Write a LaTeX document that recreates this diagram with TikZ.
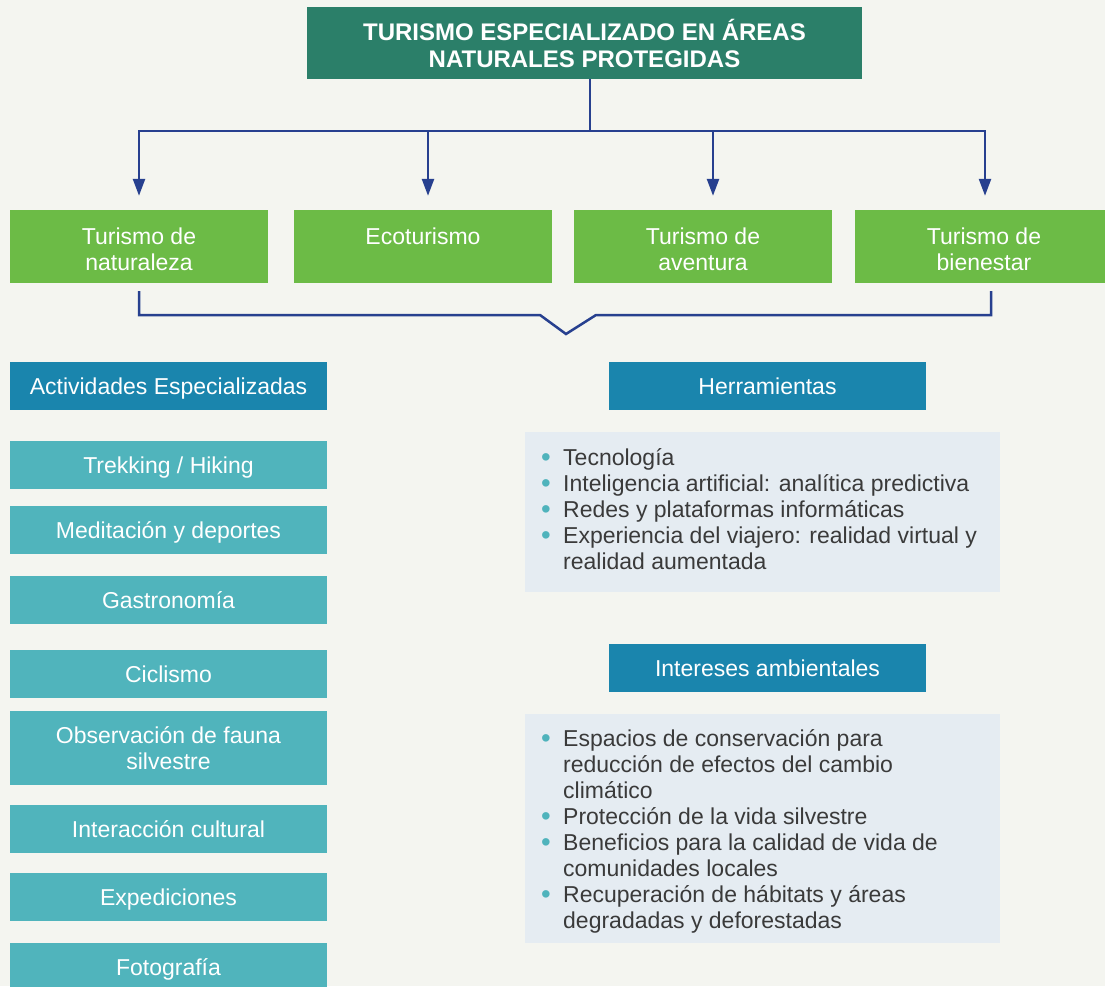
\documentclass[tikz,border=0pt]{standalone}
\usepackage{graphicx}
\usepackage{fontspec}
\setmainfont{Liberation Sans}
\usetikzlibrary{arrows.meta,calc}
\definecolor{bgc}{HTML}{F4F5F0}
\definecolor{titlegreen}{HTML}{2B7F69}
\definecolor{lgreen}{HTML}{6CBB46}
\definecolor{lineblue}{HTML}{27408F}
\definecolor{headblue}{HTML}{1A85AD}
\definecolor{tealc}{HTML}{50B4BC}
\definecolor{panelc}{HTML}{E5ECF2}
\definecolor{textc}{HTML}{3A3A3A}
\definecolor{bulc}{HTML}{4FB3BC}
\newcommand{\bul}{\llap{\textcolor{bulc}{\raisebox{-1.5pt}{\scalebox{1.2}{•}}}\hspace{12.5pt}}}
\newcommand{\tstrut}{\rule{0pt}{23pt}}
\begin{document}
\begin{tikzpicture}[x=1pt,y=-1pt,
  box/.style={rectangle, inner sep=0pt, align=center, text=white, font=\fontsize{23}{26}\selectfont},
  sline/.style={text height=17pt, text depth=0pt},
  titlebox/.style={box, fill=titlegreen, minimum width=555pt, minimum height=72pt, font=\bfseries\fontsize{24}{27}\selectfont},
  greenbox/.style={box, fill=lgreen, minimum width=258pt, minimum height=73pt},
  headbox/.style={box, sline, fill=headblue, minimum width=317pt, minimum height=48pt},
  itembox/.style={box, fill=tealc, minimum width=317pt, minimum height=48pt},
  panel/.style={rectangle, fill=panelc, inner sep=0pt, minimum width=475pt},
  listtext/.style={anchor=north west, inner sep=0pt, align=left, text=textc, font=\fontsize{23}{26}\selectfont},
  conn/.style={draw=lineblue, line width=2.5pt},
  arr/.style={conn, -{Triangle[length=17pt,width=12pt]}}
]
\useasboundingbox (0,0) rectangle (1105,986);
\fill[bgc] (0,0) rectangle (1105,986);

% title
\node[titlebox] (title) at (584.5,43) {TURISMO ESPECIALIZADO EN ÁREAS\\NATURALES PROTEGIDAS};

% green boxes
\node[greenbox] (g1) at (139,246.5) {\tstrut Turismo de\\naturaleza};
\node[greenbox] (g2) at (423,246.5) {\tstrut Ecoturismo\\\phantom{naturaleza}};
\node[greenbox] (g3) at (703,246.5) {\tstrut Turismo de\\aventura};
\node[greenbox] (g4) at (984,246.5) {\tstrut Turismo de\\bienestar};

% connectors top
\coordinate (j) at (590,131);
\draw[conn] ([xshift=5.5pt]title.south) -- (j);
\draw[arr] (j) -| ([yshift=14pt]g1.north);
\draw[arr] (j) -| ([xshift=5pt,yshift=14pt]g2.north);
\draw[arr] (j) -| ([xshift=10pt,yshift=14pt]g3.north);
\draw[arr] (j) -| ([xshift=1pt,yshift=14pt]g4.north);

% bracket
\coordinate (vt) at (566,334);
\draw[conn] ([yshift=-8pt]g1.south) |- (540,315) -- (vt) -- (596,315) -| ([xshift=7pt,yshift=-8pt]g4.south);

% left column
\node[headbox] (act) at (168.5,386) {Actividades Especializadas};
\node[itembox, sline] (trek) at (168.5,465) {Trekking / Hiking};
\node[itembox, sline] (medi) at (168.5,530) {Meditación y deportes};
\node[itembox, sline] (gast) at (168.5,599.5) {Gastronomía};
\node[itembox, sline] (cicl) at (168.5,674) {Ciclismo};
\node[itembox, minimum height=74pt] (obs) at (168.5,748) {Observación de fauna\\silvestre};
\node[itembox, sline] (inter) at (168.5,829) {Interacción cultural};
\node[itembox, sline] (exped) at (168.5,897) {Expediciones};
\node[itembox, sline] (foto) at (168.5,967) {Fotografía};

% right column
\node[headbox] (herr) at (767.5,386) {Herramientas};
\node[panel, minimum height=160pt] (hpanel) at (762.5,512) {};
\node[listtext] (hlist) at (563,447) {\rule{0pt}{18pt}\bul Tecnología\\
\bul Inteligencia artificial: analítica predictiva\\
\bul Redes y plataformas informáticas\\
\bul Experiencia del viajero: realidad virtual y\\
realidad aumentada};

\node[headbox] (intam) at (767.5,667.5) {Intereses ambientales};
\node[panel, minimum height=229pt] (ipanel) at (762.5,828.5) {};
\node[listtext] (ilist) at (563,728) {\rule{0pt}{18pt}\bul Espacios de conservación para\\
reducción de efectos del cambio\\
climático\\
\bul Protección de la vida silvestre\\
\bul Beneficios para la calidad de vida de\\
comunidades locales\\
\bul Recuperación de hábitats y áreas\\
degradadas y deforestadas};
\end{tikzpicture}
\end{document}
